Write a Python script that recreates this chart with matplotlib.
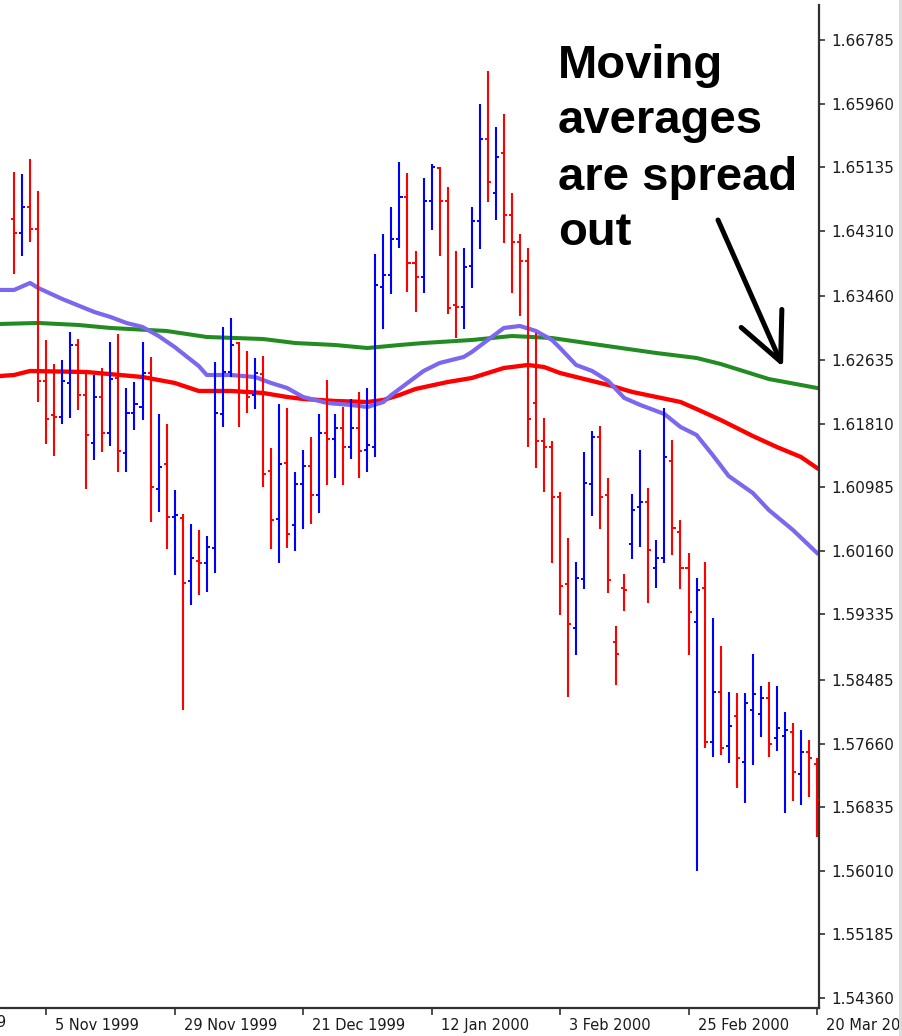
import numpy as np
import matplotlib.pyplot as plt
from matplotlib.patches import Rectangle
from matplotlib.transforms import ScaledTranslation

# daily bars, oldest first
opens = [1.64464, 1.64282, 1.64619, 1.64334, 1.62362, 1.61921, 1.61896, 1.62337, 1.62829, 1.62181,
         1.61558, 1.62155, 1.61688, 1.62401, 1.61429, 1.61947, 1.62025, 1.62466, 1.60962, 1.61286,
         1.60599, 1.60586, 1.59768, 1.60028, 1.60002, 1.60196, 1.61934, 1.62479, 1.62855, 1.62220,
         1.62181, 1.62453, 1.61195, 1.60573, 1.61299, 1.60495, 1.61027, 1.61260, 1.60884, 1.61688,
         1.61610, 1.61753, 1.61506, 1.61753, 1.61468, 1.61506, 1.63582, 1.63737, 1.64204, 1.64749,
         1.63893, 1.63711, 1.64697, 1.65125, 1.64697, 1.63348, 1.63322, 1.63854, 1.64438, 1.65501,
         1.64801, 1.65320, 1.64515, 1.64165, 1.63919, 1.62077, 1.61584, 1.61506, 1.60858, 1.59730,
         1.59159, 1.59794, 1.61027, 1.61636, 1.60884, 1.58977, 1.59678, 1.60248, 1.60728, 1.60793,
         1.59937, 1.60067, 1.61325, 1.60404, 1.59937, 1.59237, 1.59678, 1.57680, 1.58329, 1.57628,
         1.58017, 1.57421, 1.58095, 1.58043, 1.58251, 1.57732, 1.57758, 1.57810, 1.57265, 1.57550,
         1.57395]
highs = [1.65073, 1.65047, 1.65242, 1.64827, 1.62894, 1.62583, 1.62635, 1.62998, 1.62907, 1.62479,
         1.62440, 1.62531, 1.62868, 1.62972, 1.62272, 1.62349, 1.62868, 1.62674, 1.61934, 1.61805,
         1.60949, 1.60637, 1.60508, 1.60430, 1.60352, 1.62609, 1.63063, 1.63180, 1.62868, 1.62751,
         1.62661, 1.62687, 1.61493, 1.62064, 1.62012, 1.61182, 1.61468, 1.61636, 1.61934, 1.62375,
         1.61934, 1.62025, 1.62129, 1.62220, 1.62272, 1.64010, 1.64269, 1.64619, 1.65203, 1.65060,
         1.64049, 1.64995, 1.65177, 1.65138, 1.64879, 1.64049, 1.64087, 1.64619, 1.65955, 1.66383,
         1.65657, 1.65825, 1.64801, 1.64269, 1.64087, 1.62985, 1.61883, 1.61584, 1.60923, 1.60326,
         1.60015, 1.61442, 1.61714, 1.61779, 1.61104, 1.59185, 1.59859, 1.60897, 1.61468, 1.60975,
         1.60300, 1.62012, 1.61597, 1.60560, 1.60132, 1.59807, 1.60015, 1.59289, 1.58925, 1.58329,
         1.58316, 1.58316, 1.58822, 1.58407, 1.58459, 1.58407, 1.58069, 1.57927, 1.57836, 1.57706,
         1.57473]
lows = [1.63750, 1.63984, 1.64165, 1.62090, 1.61545, 1.61390, 1.61805, 1.61883, 1.61986, 1.60962,
        1.61338, 1.61442, 1.61519, 1.61182, 1.61182, 1.61727, 1.61857, 1.60534, 1.60663, 1.60184,
        1.59846, 1.58094, 1.59457, 1.59587, 1.59626, 1.59872, 1.61766, 1.62414, 1.61766, 1.61947,
        1.61999, 1.60988, 1.60184, 1.60002, 1.60196, 1.60158, 1.60443, 1.60508, 1.60650, 1.61014,
        1.61104, 1.61014, 1.61351, 1.61104, 1.61182, 1.61377, 1.63037, 1.63491, 1.64087, 1.63517,
        1.63257, 1.63504, 1.64321, 1.63984, 1.63231, 1.62920, 1.63037, 1.63569, 1.64075, 1.64684,
        1.64451, 1.64152, 1.63504, 1.63206, 1.61506, 1.61234, 1.60923, 1.60002, 1.59327, 1.58264,
        1.58808, 1.59665, 1.60612, 1.60443, 1.59613, 1.58420, 1.59379, 1.60054, 1.60209, 1.59483,
        1.59678, 1.60002, 1.60106, 1.59665, 1.58808, 1.56007, 1.57602, 1.57486, 1.57512, 1.57408,
        1.57084, 1.56889, 1.57382, 1.57745, 1.57486, 1.57564, 1.56758, 1.56915, 1.56863, 1.56967,
        1.56448]
closes = [1.64282, 1.64619, 1.64334, 1.62362, 1.61870, 1.61896, 1.62362, 1.62829, 1.62181, 1.61662,
          1.62155, 1.61688, 1.62388, 1.61455, 1.61947, 1.62064, 1.62466, 1.60988, 1.61247, 1.60599,
          1.60624, 1.59742, 1.60067, 1.60002, 1.60209, 1.61947, 1.62479, 1.62829, 1.62220, 1.62155,
          1.62466, 1.61156, 1.60560, 1.61286, 1.60378, 1.61027, 1.61260, 1.60884, 1.61688, 1.61610,
          1.61753, 1.61506, 1.61753, 1.61455, 1.61532, 1.63608, 1.63737, 1.64204, 1.64749, 1.63893,
          1.63711, 1.64697, 1.65138, 1.64697, 1.63309, 1.63322, 1.63841, 1.64438, 1.65501, 1.64944,
          1.65268, 1.64515, 1.64165, 1.63919, 1.61870, 1.61584, 1.61506, 1.60858, 1.59704, 1.59211,
          1.59807, 1.61040, 1.61636, 1.60858, 1.59781, 1.58822, 1.59652, 1.60689, 1.60793, 1.60171,
          1.60067, 1.61377, 1.60456, 1.59937, 1.59366, 1.59652, 1.57680, 1.58329, 1.57602, 1.57888,
          1.57473, 1.58186, 1.58303, 1.58251, 1.57654, 1.57862, 1.57836, 1.57291, 1.57550, 1.57473,
          1.56928]

# moving averages, sampled at bar positions
fast_x = [-1.75, 0, 2, 3, 6, 10, 12, 14, 16, 18, 20, 23, 24, 27, 30, 32, 34, 36, 39, 42,
          44, 46, 47, 49, 51, 53, 56, 57, 59, 61, 63, 65, 67, 68, 70, 72, 74, 76, 78, 80,
          81, 83, 85, 87, 89, 92, 94, 97, 100]
fast_ma = [1.63543, 1.63543, 1.63634, 1.63569, 1.63426, 1.63257, 1.63193, 1.63115, 1.63063, 1.62946,
           1.62803, 1.62557, 1.62440, 1.62440, 1.62414, 1.62337, 1.62272, 1.62155, 1.62077, 1.62051,
           1.62025, 1.62090, 1.62181, 1.62337, 1.62492, 1.62596, 1.62674, 1.62738, 1.62894, 1.63050,
           1.63076, 1.63011, 1.62894, 1.62790, 1.62570, 1.62492, 1.62362, 1.62142, 1.62051, 1.61973,
           1.61934, 1.61766, 1.61662, 1.61403, 1.61130, 1.60910, 1.60689, 1.60430, 1.60132]
mid_x = [-1.75, 0, 2, 9, 16, 20, 23, 27, 31, 34, 36, 40, 44, 46, 48, 50, 54, 57, 59, 61,
         64, 66, 68, 71, 74, 77, 80, 83, 85, 88, 89, 92, 95, 98, 100]
mid_ma = [1.62427, 1.62440, 1.62492, 1.62479, 1.62414, 1.62337, 1.62233, 1.62233, 1.62207, 1.62155,
          1.62129, 1.62103, 1.62090, 1.62116, 1.62181, 1.62259, 1.62349, 1.62401, 1.62466, 1.62531,
          1.62570, 1.62544, 1.62466, 1.62388, 1.62311, 1.62220, 1.62155, 1.62090, 1.61999, 1.61857,
          1.61805, 1.61649, 1.61506, 1.61377, 1.61234]
slow_x = [-1.75, 3, 8, 12, 19, 24, 31, 35, 40, 44, 48, 51, 57, 62, 67, 73, 80, 85, 88, 94, 100]
slow_ma = [1.63102, 1.63115, 1.63089, 1.63050, 1.63011, 1.62933, 1.62907, 1.62855, 1.62829, 1.62790,
           1.62829, 1.62855, 1.62894, 1.62946, 1.62920, 1.62829, 1.62725, 1.62661, 1.62583, 1.62388,
           1.62272]

price_labels = ["1.54360", "1.55185", "1.56010", "1.56835", "1.57660", "1.58485", "1.59335", "1.60160",
                "1.60985", "1.61810", "1.62635", "1.63460", "1.64310", "1.65135", "1.65960", "1.66785"]
date_pos = [4, 20, 36, 52, 68, 84, 100]
date_labels = ["5 Nov 1999", "29 Nov 1999", "21 Dec 1999", "12 Jan 2000", "3 Feb 2000",
               "25 Feb 2000", "20 Mar 2000"]
note_lines = ["Moving", "averages", "are spread", "out"]

W, H = 903, 1036
fig = plt.figure(figsize=(W / 100, H / 100), dpi=100)
ax = fig.add_axes([0, 28 / H, 819 / W, 1003 / H])

o = np.array(opens)
c = np.array(closes)
x = np.arange(len(o))
cols = np.where(c >= o, "#0000ff", "#ff0000")

ax.plot(slow_x, slow_ma, color="#228b22", lw=2.9, zorder=2)
ax.plot(mid_x, mid_ma, color="#ff0000", lw=3.1, zorder=2)
ax.plot(fast_x, fast_ma, color="#7b68ee", lw=3.0, zorder=2)

ax.vlines(x, lows, highs, colors=cols, lw=1.5, zorder=3)
ax.hlines(o, x - 0.38, x, colors=cols, lw=1.4, zorder=3)
ax.hlines(c, x, x + 0.38, colors=cols, lw=1.4, zorder=3)

ax.set_xlim(-1.75, 100.25)
ax.set_ylim(1.54230, 1.67239)

for s in ["top", "left"]:
    ax.spines[s].set_visible(False)
for s in ["right", "bottom"]:
    ax.spines[s].set_color("#303030")
    ax.spines[s].set_linewidth(1.6)

ax.yaxis.tick_right()
ax.set_yticks([float(p) for p in price_labels])
ax.set_yticklabels(price_labels, fontsize=11, color="#1a1a1a")
ax.tick_params(axis="y", direction="out", length=4, width=1.2, pad=5, colors="#303030",
               labelcolor="#1a1a1a")

ax.set_xticks(date_pos)
ax.set_xticklabels(date_labels, fontsize=10.5, color="#1a1a1a", ha="left")
ax.tick_params(axis="x", direction="out", length=5, width=1.2, pad=2, colors="#303030",
               labelcolor="#1a1a1a")
shift = ScaledTranslation(9 / 100, 0, fig.dpi_scale_trans)
for lab in ax.get_xticklabels():
    lab.set_transform(lab.get_transform() + shift)

# clipped label of the previous date on the left edge
ax.text(0, 0, "14 Oct 1999", fontsize=10.5, color="#1a1a1a", ha="right", va="top",
        transform=fig.transFigure + ScaledTranslation(6 / 100, (H - 1015) / 100, fig.dpi_scale_trans),
        clip_on=False)

baselines = [78, 133, 190, 245]
for line, b in zip(note_lines, baselines):
    fig.text(558 / W, 1 - b / H, line, fontsize=34, fontweight="bold",
             family="Liberation Sans", color="black", va="baseline", ha="left")

ax.annotate("", xy=(783 / W, 1 - 367 / H), xytext=(718 / W, 1 - 220 / H),
            xycoords="figure fraction", textcoords="figure fraction",
            arrowprops=dict(arrowstyle="->,head_length=3.4,head_width=1.6", mutation_scale=10,
                            lw=3.6, color="black", shrinkA=0, shrinkB=0))

fig.add_artist(Rectangle((899 / W, 0), 4 / W, 1, transform=fig.transFigure,
                         color="#dcdcdc", lw=0))

fig.savefig("out.png", dpi=100)
